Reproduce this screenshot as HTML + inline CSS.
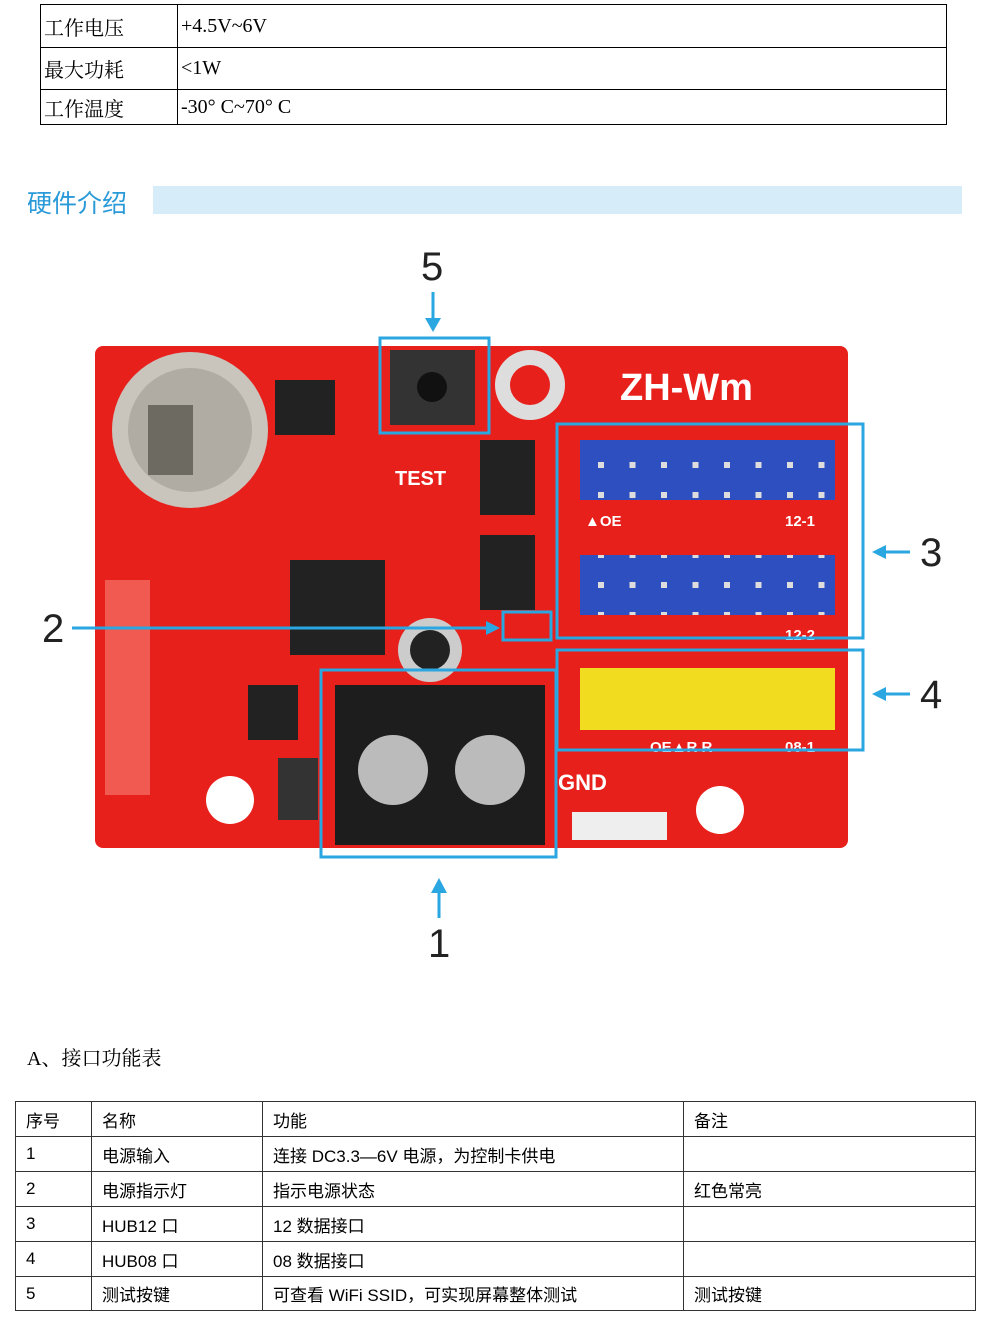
<!DOCTYPE html>
<html><head><meta charset="utf-8"><style>
body{margin:0;width:990px;height:1325px;background:#fff;position:relative;overflow:hidden;font-family:"Liberation Serif","Noto Serif CJK SC",serif}
table{border-collapse:collapse;position:absolute}
td{border:1.3px solid #000;padding:0 3px;font-size:20px;color:#000}
.t2 td{font-family:"Liberation Sans","Noto Sans CJK SC",sans-serif;font-size:17px;padding:0 10px;border:1px solid #333}
.abs{position:absolute}
</style></head><body>
<table style="left:40px;top:4px;width:907px">
<tr style="height:43px"><td style="width:130px">工作电压</td><td>+4.5V~6V</td></tr>
<tr style="height:42px"><td>最大功耗</td><td>&lt;1W</td></tr>
<tr style="height:35px"><td>工作温度</td><td>-30° C~70° C</td></tr>
</table>
<div class="abs" style="left:27px;top:184px;font-size:25px;color:#2a9ad8;font-family:'Liberation Sans','Noto Sans CJK SC',sans-serif">硬件介绍</div>
<div class="abs" style="left:153px;top:186px;width:809px;height:28px;background:#d6ecf8"></div>

<svg class="abs" style="left:0;top:230px" width="990" height="740" viewBox="0 230 990 740">
<defs>
<pattern id="pins" x="586" y="0" width="31.5" height="30" patternUnits="userSpaceOnUse">
<rect x="12" y="12" width="6" height="6" fill="#ddd"/>
</pattern>
</defs>
<rect x="95" y="346" width="753" height="502" rx="8" fill="#e8201c"/>
<circle cx="190" cy="430" r="78" fill="#c9c4bc"/><circle cx="190" cy="430" r="62" fill="#b0aba3"/>
<rect x="148" y="405" width="45" height="70" fill="#6d6a62"/>
<circle cx="530" cy="385" r="35" fill="#ddd"/><circle cx="530" cy="385" r="20" fill="#e8201c"/>
<rect x="390" y="350" width="85" height="75" fill="#333"/><circle cx="432" cy="387" r="15" fill="#111"/>
<rect x="275" y="380" width="60" height="55" fill="#222"/>
<rect x="480" y="440" width="55" height="75" fill="#222"/><rect x="480" y="535" width="55" height="75" fill="#222"/>
<rect x="290" y="560" width="95" height="95" fill="#222"/>
<rect x="248" y="685" width="50" height="55" fill="#222"/>
<rect x="105" y="580" width="45" height="215" fill="#f05a50"/>
<circle cx="430" cy="650" r="32" fill="#ccc"/><circle cx="430" cy="650" r="20" fill="#222"/>
<circle cx="230" cy="800" r="24" fill="#fff"/><circle cx="720" cy="810" r="24" fill="#fff"/>
<rect x="278" y="758" width="40" height="62" fill="#333"/>
<rect x="335" y="685" width="210" height="160" fill="#1d1d1d"/>
<circle cx="393" cy="770" r="35" fill="#bbb"/><circle cx="490" cy="770" r="35" fill="#bbb"/>
<rect x="580" y="440" width="255" height="60" fill="#2d4fbf"/>
<rect x="580" y="440" width="255" height="60" fill="url(#pins)" transform="translate(0,0)"/>
<rect x="580" y="555" width="255" height="60" fill="#2d4fbf"/>
<rect x="580" y="555" width="255" height="60" fill="url(#pins)"/>
<rect x="580" y="668" width="255" height="62" fill="#f2dc20"/>
<g font-family="Liberation Sans" font-weight="bold" font-size="15" fill="#fff">
<text x="585" y="526">▲OE</text><text x="785" y="526">12-1</text>
<text x="785" y="640">12-2</text><text x="650" y="752">OE▲R R</text><text x="785" y="752">08-1</text>
</g>
<text x="620" y="400" font-family="Liberation Sans" font-weight="bold" font-size="38" fill="#fff">ZH-Wm</text>
<text x="395" y="485" font-family="Liberation Sans" font-weight="bold" font-size="20" fill="#fff">TEST</text>
<text x="558" y="790" font-family="Liberation Sans" font-weight="bold" font-size="22" fill="#fff">GND</text>
<rect x="572" y="812" width="95" height="28" fill="#eee"/>
<g fill="none" stroke="#2aa6e0" stroke-width="3">
<rect x="380" y="338" width="109" height="95"/>
<rect x="557" y="424" width="306" height="214"/>
<rect x="557" y="650" width="306" height="100"/>
<rect x="503" y="612" width="48" height="28"/>
<rect x="321" y="670" width="235" height="187"/>
<line x1="72" y1="628" x2="490" y2="628"/>
<line x1="433" y1="292" x2="433" y2="322"/>
<line x1="910" y1="552" x2="882" y2="552"/>
<line x1="910" y1="694" x2="882" y2="694"/>
<line x1="439" y1="918" x2="439" y2="890"/>
</g>
<g fill="#2aa6e0">
<polygon points="425,318 441,318 433,332"/>
<polygon points="486,621 486,635 500,628"/>
<polygon points="886,545 886,559 872,552"/>
<polygon points="886,687 886,701 872,694"/>
<polygon points="431,893 447,893 439,878"/>
</g>
<g font-family="Liberation Sans,DejaVu Sans" font-size="40" fill="#222">
<text x="421" y="280">5</text><text x="42" y="642">2</text><text x="920" y="566">3</text>
<text x="920" y="708">4</text><text x="428" y="957">1</text>
</g>
</svg>

<div class="abs" style="left:27px;top:1042px;font-size:20px">A、接口功能表</div>
<table class="t2" style="left:15px;top:1101px;width:961px">
<tr style="height:35px"><td style="width:55px">序号</td><td style="width:150px">名称</td><td style="width:400px">功能</td><td>备注</td></tr>
<tr style="height:35px"><td>1</td><td>电源输入</td><td>连接 DC3.3—6V 电源，为控制卡供电</td><td></td></tr>
<tr style="height:35px"><td>2</td><td>电源指示灯</td><td>指示电源状态</td><td>红色常亮</td></tr>
<tr style="height:35px"><td>3</td><td>HUB12 口</td><td>12 数据接口</td><td></td></tr>
<tr style="height:35px"><td>4</td><td>HUB08 口</td><td>08 数据接口</td><td></td></tr>
<tr style="height:34px"><td>5</td><td>测试按键</td><td>可查看 WiFi SSID，可实现屏幕整体测试</td><td>测试按键</td></tr>
</table>
</body></html>
